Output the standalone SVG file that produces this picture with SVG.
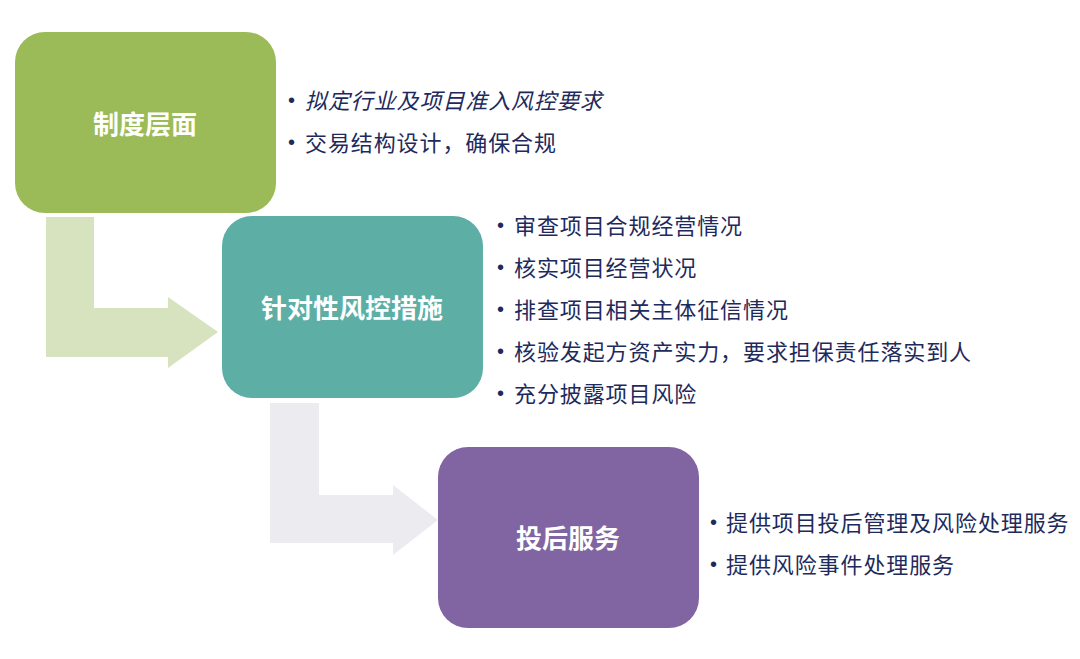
<svg xmlns="http://www.w3.org/2000/svg" width="1080" height="659" viewBox="0 0 1080 659">
<style>
.title{font-family:"Noto Sans CJK SC","Liberation Sans",sans-serif;font-size:26px;font-weight:bold;fill:#ffffff;text-anchor:middle;dominant-baseline:central}
.item{font-family:"Noto Sans CJK SC","Liberation Sans",sans-serif;font-size:22px;letter-spacing:0.9px;fill:#1E2A5C;dominant-baseline:central}
.bul{font-family:"Liberation Sans",sans-serif;font-size:20px;fill:#1E2A5C;dominant-baseline:central}
.it{font-style:italic}
</style>
<rect width="1080" height="659" fill="#ffffff"/>
<g id="connectors">
<path d="M46,217 H94 V308 H168 V297 L218,332 L168,368 V357 H46 Z" fill="#D7E3BF"/>
<path d="M270,403 H319 V495 H393 V485 L438,520 L393,555 V543 H270 Z" fill="#ECEBF0"/>
</g>
<g id="node1">
<rect x="15" y="32" width="261" height="181" rx="30" fill="#9BBB59"/>
<text class="title" x="145" y="122">制度层面</text>
<text class="bul" x="288" y="100">•</text>
<text class="item it" x="305" y="99">拟定行业及项目准入风控要求</text>
<text class="bul" x="288" y="142">•</text>
<text class="item" x="305" y="141">交易结构设计，确保合规</text>
</g>
<g id="node2">
<rect x="222" y="216" width="261" height="182" rx="30" fill="#5DAEA5"/>
<text class="title" x="352" y="306">针对性风控措施</text>
<text class="bul" x="497" y="225">•</text>
<text class="item" x="514" y="224">审查项目合规经营情况</text>
<text class="bul" x="497" y="267">•</text>
<text class="item" x="514" y="266">核实项目经营状况</text>
<text class="bul" x="497" y="309">•</text>
<text class="item" x="514" y="308">排查项目相关主体征信情况</text>
<text class="bul" x="497" y="351">•</text>
<text class="item" x="514" y="350">核验发起方资产实力，要求担保责任落实到人</text>
<text class="bul" x="497" y="393">•</text>
<text class="item" x="514" y="392">充分披露项目风险</text>
</g>
<g id="node3">
<rect x="438" y="447" width="261" height="181" rx="30" fill="#8165A2"/>
<text class="title" x="568" y="536">投后服务</text>
<text class="bul" x="710" y="522">•</text>
<text class="item" x="726" y="521">提供项目投后管理及风险处理服务</text>
<text class="bul" x="710" y="564">•</text>
<text class="item" x="726" y="563">提供风险事件处理服务</text>
</g>
</svg>
